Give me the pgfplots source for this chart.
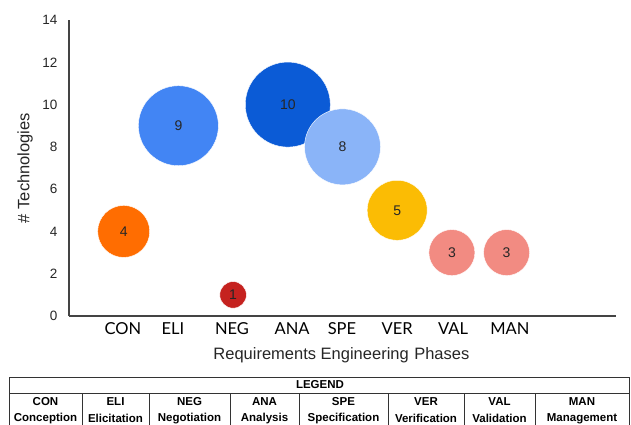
\documentclass[border=0pt]{standalone}
\usepackage{fontspec}
\setmainfont{Liberation Sans}
\newfontfamily\latofont{Lato}
\usepackage{pgfplots}
\usepackage{pgfplotstable}
\pgfplotsset{compat=1.18}

\definecolor{cCON}{HTML}{FF6D01}
\definecolor{cELI}{HTML}{4285F4}
\definecolor{cNEG}{HTML}{C5221F}
\definecolor{cANA}{HTML}{0B5BD6}
\definecolor{cSPE}{HTML}{8AB4F8}
\definecolor{cVER}{HTML}{FBBC04}
\definecolor{cVAL}{HTML}{F28B82}
\definecolor{cMAN}{HTML}{F28B82}
\definecolor{axisgray}{HTML}{444444}
\definecolor{tablegray}{HTML}{333333}

\pgfplotstableread{
x y r cls
0 4 26 CON
1 9 40 ELI
2 1 13.3 NEG
3 10 42.5 ANA
4 8 38 SPE
5 5 30 VER
6 3 23 VAL
7 3 23 MAN
}\bubbles

\begin{document}
\begin{tikzpicture}[x=1pt,y=1pt]
\path[use as bounding box] (0,0) rectangle (631,-424);
\clip (0,0) rectangle (631,-424);

\begin{axis}[
  at={(69pt,-316pt)}, anchor=south west,
  scale only axis, width=547pt, height=296pt,
  xmin=-1, xmax=9, ymin=0, ymax=14,
  clip=false,
  axis lines=left,
  axis line style={draw=axisgray, line width=1.2pt, -},
  major tick length=0pt,
  xtick={-0.013,0.90,1.98,3.08,3.99,5.0,6.02,7.06},
  xticklabels={CON,ELI,NEG,ANA,SPE,VER,VAL,MAN},
  ytick={0,2,...,14},
  /pgf/number format/assume math mode=true,
  xticklabel style={font=\latofont\fontsize{16.5}{19}\selectfont, text=black, yshift=-3pt},
  yticklabel style={font=\fontsize{13.5}{16}\selectfont, text=black!85, xshift=-8pt},
  xlabel={Requirements Engineering\,\,Phases},
  ylabel={\# Technologies},
  xlabel style={at={(axis description cs:0.498,-0.132)}, anchor=center, font=\fontsize{16.5}{20}\selectfont, text=black!85},
  ylabel style={at={(axis description cs:-0.0804,0.5)}, anchor=center, rotate=0, font=\fontsize{16.5}{20}\selectfont, text=black!85},
]
\addplot[scatter, only marks, mark=*,
  scatter src=explicit symbolic,
  scatter/classes={
    CON={mark=*, draw=white, fill=cCON},
    ELI={mark=*, draw=white, fill=cELI},
    NEG={mark=*, draw=white, fill=cNEG},
    ANA={mark=*, draw=white, fill=cANA},
    SPE={mark=*, draw=white, fill=cSPE},
    VER={mark=*, draw=white, fill=cVER},
    VAL={mark=*, draw=white, fill=cVAL},
    MAN={mark=*, draw=white, fill=cMAN}},
  visualization depends on={\thisrow{r}\as\rad},
  scatter/@pre marker code/.append style={/tikz/mark size=\rad, /tikz/line width=0.6pt},
] table[x=x, y=y, meta=cls] {\bubbles};

\addplot[only marks, mark=none, nodes near coords, point meta=y,
  every node near coord/.append style={anchor=center, font=\fontsize{14}{16}\selectfont, text=black!85},
] table[x=x, y=y] {\bubbles};
\end{axis}

% legend table
\begin{scope}[draw=tablegray, line width=0.9pt]
\draw (9,-440) -- (9,-377) -- (629,-377) -- (629,-440);
\draw (9,-393) -- (629,-393);
\foreach \xx in {82,149,230,299,388,464,535}
  \draw (\xx,-393) -- (\xx,-440);
\end{scope}
\node[font=\bfseries\fontsize{11.5}{14}\selectfont] at (320,-385) {LEGEND};
\foreach \cx/\ab/\nm in {45.5/CON/Conception,115.5/ELI/Elicitation,189.5/NEG/Negotiation,264.5/ANA/Analysis,343.5/SPE/Specification,426/VER/Verification,499.5/VAL/Validation,582/MAN/Management}{
  \node[font=\bfseries\fontsize{11.5}{14}\selectfont] at (\cx,-402) {\ab};
  \node[font=\bfseries\fontsize{11.5}{14}\selectfont] at (\cx,-418.5) {\nm};
}
\end{tikzpicture}
\end{document}
